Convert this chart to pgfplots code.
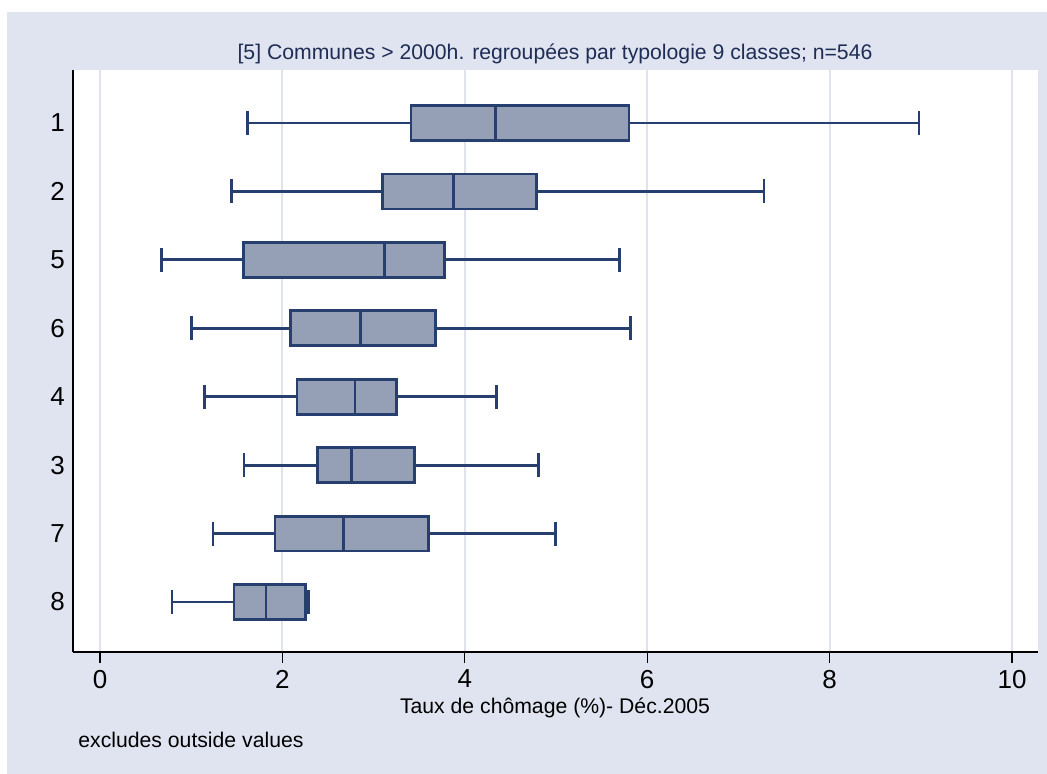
\documentclass[border=0pt]{standalone}
\usepackage{pgfplots}
\pgfplotsset{compat=1.18}
\usepgfplotslibrary{statistics}
\usepackage{fontspec}
\setmainfont{Liberation Sans}
\definecolor{bgc}{RGB}{224,228,240}
\definecolor{gridc}{RGB}{222,227,238}
\definecolor{boxf}{RGB}{149,160,183}
\definecolor{navy}{RGB}{38,63,110}
\definecolor{titc}{RGB}{30,45,85}
\begin{document}
\begin{tikzpicture}
\fill[white] (0,0) rectangle (523.5pt,387pt);
\fill[bgc] (3.5pt,0) rectangle (523.5pt,381pt);
\begin{axis}[at={(36.5pt,61pt)}, anchor=south west, scale only axis,
 width=482.5pt, height=291pt,
 xmin=-0.296, xmax=10.285, ymin=0.27, ymax=8.775,
 axis background/.style={fill=white},
 axis x line*=bottom, axis y line*=left,
 axis line style={black, line width=0.6pt, -},
 xtick={0,2,...,10}, ytick={1,...,8}, yticklabels={8,7,3,4,6,5,2,1},
 xmajorgrids, grid style={gridc, line width=1pt},
 tick align=outside, xtick style={black, line width=0.6pt}, major tick length=5.5pt,
 ytick style={draw=none},
 tick label style={font=\fontsize{13}{15}\selectfont},
 yticklabel style={xshift=5pt},
 /pgf/number format/assume math mode=true,
]
\addplot[boxplot prepared={draw position=8, lower whisker=1.615, lower quartile=3.41, median=4.335, upper quartile=5.80, upper whisker=8.98, box extend=0.51, whisker extend=0.35}, draw=navy, fill=boxf, line width=1.4pt] coordinates {};
\addplot[boxplot prepared={draw position=7, lower whisker=1.44, lower quartile=3.095, median=3.88, upper quartile=4.79, upper whisker=7.28, box extend=0.51, whisker extend=0.35}, draw=navy, fill=boxf, line width=1.4pt] coordinates {};
\addplot[boxplot prepared={draw position=6, lower whisker=0.67, lower quartile=1.57, median=3.12, upper quartile=3.78, upper whisker=5.70, box extend=0.51, whisker extend=0.35}, draw=navy, fill=boxf, line width=1.4pt] coordinates {};
\addplot[boxplot prepared={draw position=5, lower whisker=1.0, lower quartile=2.09, median=2.855, upper quartile=3.677, upper whisker=5.82, box extend=0.51, whisker extend=0.35}, draw=navy, fill=boxf, line width=1.4pt] coordinates {};
\addplot[boxplot prepared={draw position=4, lower whisker=1.144, lower quartile=2.16, median=2.796, upper quartile=3.253, upper whisker=4.346, box extend=0.51, whisker extend=0.35}, draw=navy, fill=boxf, line width=1.4pt] coordinates {};
\addplot[boxplot prepared={draw position=3, lower whisker=1.58, lower quartile=2.387, median=2.76, upper quartile=3.447, upper whisker=4.806, box extend=0.51, whisker extend=0.35}, draw=navy, fill=boxf, line width=1.4pt] coordinates {};
\addplot[boxplot prepared={draw position=2, lower whisker=1.239, lower quartile=1.919, median=2.668, upper quartile=3.604, upper whisker=4.997, box extend=0.51, whisker extend=0.35}, draw=navy, fill=boxf, line width=1.4pt] coordinates {};
\addplot[boxplot prepared={draw position=1, lower whisker=0.79, lower quartile=1.47, median=1.82, upper quartile=2.25, upper whisker=2.29, box extend=0.51, whisker extend=0.35}, draw=navy, fill=boxf, line width=1.4pt] coordinates {};
\end{axis}
\node[font=\fontsize{10.6}{12}\selectfont, text=titc] at (277.5pt,360pt) {[5] Communes > 2000h. regroupées par typologie 9 classes; n=546};
\node[font=\fontsize{10.6}{12}\selectfont] at (277.5pt,33pt) {Taux de chômage (\%)- Déc.2005};
\node[font=\fontsize{10.6}{12}\selectfont, anchor=west, inner sep=0pt] at (39pt,17pt) {excludes outside values};
\end{tikzpicture}
\end{document}
